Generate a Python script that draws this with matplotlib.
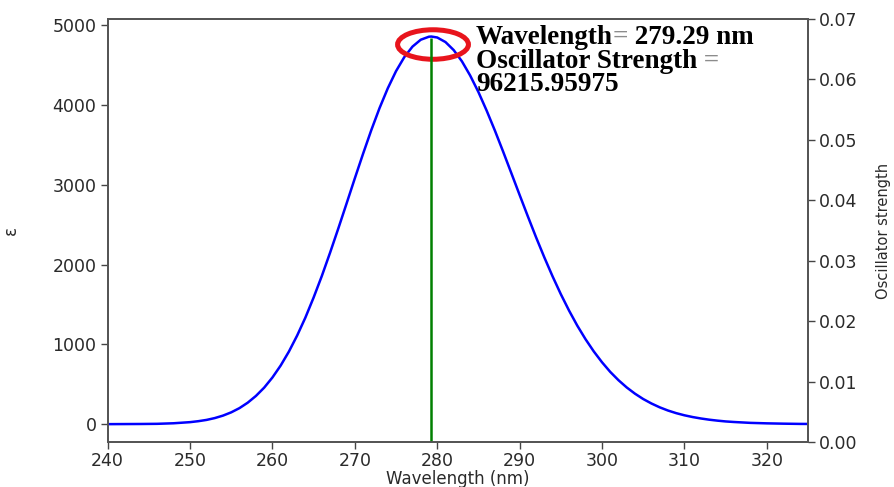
import matplotlib
matplotlib.use("Agg")
import matplotlib.pyplot as plt
from matplotlib.patches import Ellipse

# absorption spectrum (nm, epsilon)
wavelength = [240, 242, 244, 246, 248, 250, 251, 252, 253, 254,
              255, 256, 257, 258, 259, 260, 261, 262, 263, 264,
              265, 266, 267, 268, 269, 270, 271, 272, 273, 274,
              275, 276, 277, 278, 279, 279.29, 280, 281, 282, 283,
              284, 285, 286, 287, 288, 289, 290, 291, 292, 293,
              294, 295, 296, 297, 298, 299, 300, 301, 302, 303,
              304, 305, 306, 307, 308, 309, 310, 311, 312, 313,
              314, 315, 316, 318, 320, 322, 324, 326]
epsilon = [0, 1, 2, 4, 11, 25, 37, 53, 76, 107,
           148, 201, 269, 354, 458, 585, 735, 910, 1111, 1336,
           1588, 1859, 2151, 2455, 2767, 3082, 3390, 3687, 3963, 4211,
           4426, 4601, 4734, 4820, 4858, 4860, 4848, 4791, 4690, 4549,
           4371, 4164, 3931, 3681, 3417, 3146, 2874, 2605, 2342, 2091,
           1853, 1630, 1424, 1235, 1065, 912, 776, 655, 551, 460,
           382, 315, 259, 211, 171, 138, 111, 89, 71, 56,
           44, 34, 27, 16, 10, 6, 3, 2]

# the single transition (stick)
peak_wl = 279.29
peak_strength = 0.0668

xticks = [240, 250, 260, 270, 280, 290, 300, 310, 320]
yticks = [0, 1000, 2000, 3000, 4000, 5000]
y2ticks = [0.00, 0.01, 0.02, 0.03, 0.04, 0.05, 0.06, 0.07]

tick_font = {'family': 'DejaVu Sans', 'size': 12.5}
ann_font = {'family': 'Liberation Serif', 'weight': 'bold', 'size': 19.5}

fig = plt.figure(figsize=(8.94, 4.87), dpi=100)
ax = fig.add_axes([0.1204, 0.0914, 0.7834, 0.8696])
ax2 = ax.twinx()

ax.plot(wavelength, epsilon, color='blue', linewidth=1.8)
ax2.vlines(peak_wl, 0, peak_strength, color='green', linewidth=1.8)

ax.set_xlim(240, 325)
ax.set_ylim(-230, 5080)
ax2.set_ylim(0, 0.07)

ax.set_xticks(xticks)
ax.set_yticks(yticks)
ax2.set_yticks(y2ticks)
ax2.set_yticklabels(['%.2f' % v for v in y2ticks])

for a in (ax, ax2):
    for lab in a.get_xticklabels() + a.get_yticklabels():
        lab.set_fontfamily(tick_font['family'])
        lab.set_fontsize(tick_font['size'])
        lab.set_color('#2a2a2a')
    a.tick_params(color='#444444', length=5, width=1.0, pad=3)
ax.tick_params(axis='x', pad=2)
for a in (ax, ax2):
    for sp in a.spines.values():
        sp.set_color('#555555')
        sp.set_linewidth(1.3)

ax.set_xlabel('Wavelength (nm)', family='DejaVu Sans', fontsize=12, color='#2a2a2a', labelpad=0)
ax.set_ylabel('ε', fontsize=12, color='#2a2a2a')
ax.yaxis.set_label_coords(-0.125, 0.5)
ax2.set_ylabel('Oscillator strength', family='DejaVu Sans', fontsize=10.5, color='#2a2a2a')
ax2.yaxis.set_label_coords(1.097, 0.5)

# red circle round the maximum
circ = Ellipse((peak_wl + 0.2, max(epsilon) - 100), 8.6, 370, fill=False,
               edgecolor='#e8141c', linewidth=3.6, zorder=5)
ax.add_patch(circ)

# annotation, "=" drawn grey like in the original
t1 = ax.text(0.526, 0.941, 'Wavelength', transform=ax.transAxes, va='baseline', **ann_font)
t2 = ax.annotate('=', xy=(1, 0), xycoords=t1, va='bottom', color='#8c8c8c', **ann_font)
ax.annotate(' %.2f nm' % peak_wl, xy=(1, 0), xycoords=t2, va='bottom', **ann_font)
t4 = ax.text(0.526, 0.884, 'Oscillator Strength', transform=ax.transAxes, va='baseline', **ann_font)
ax.annotate(' =', xy=(1, 0), xycoords=t4, va='bottom', color='#8c8c8c', **ann_font)
ax.text(0.526, 0.829, '96215.95975', transform=ax.transAxes, va='baseline', **ann_font)

plt.savefig('out.png', dpi=100)
